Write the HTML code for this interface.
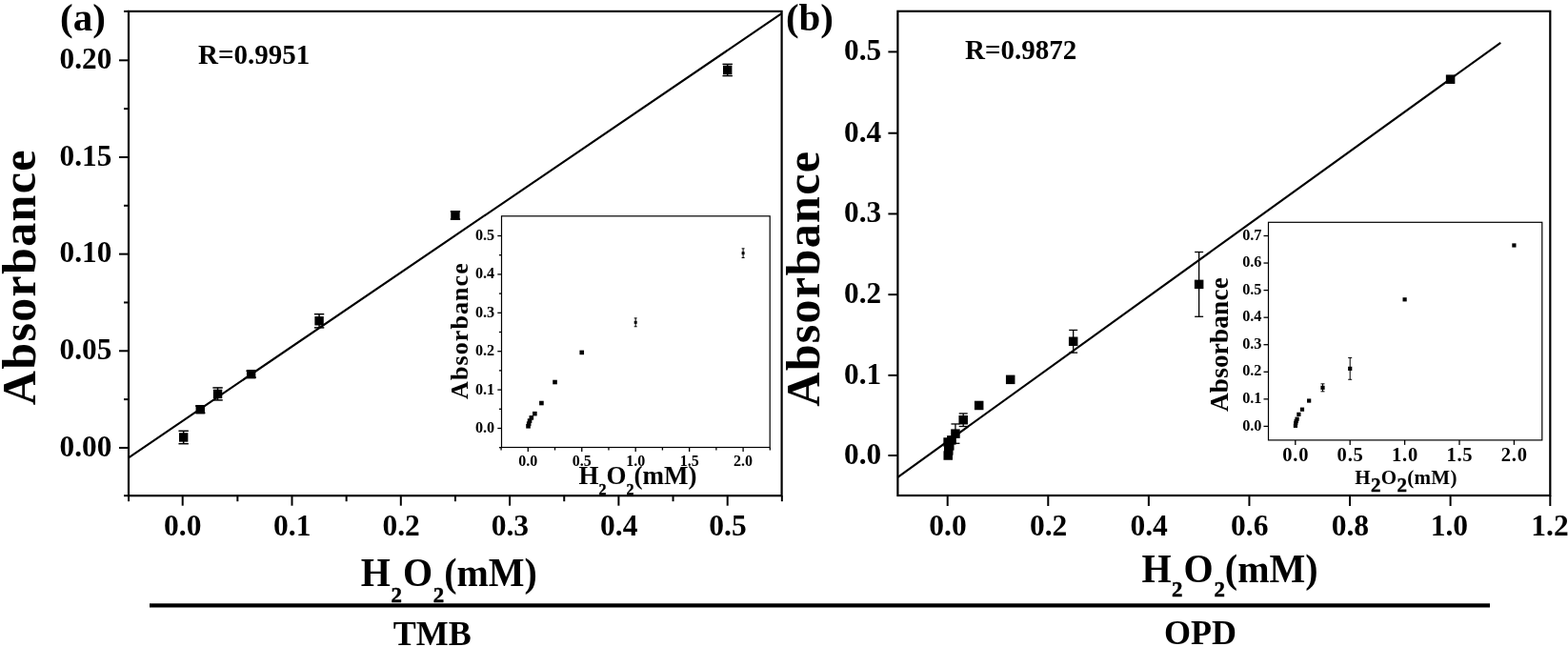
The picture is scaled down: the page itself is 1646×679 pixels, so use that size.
<!DOCTYPE html>
<html lang="en">
<head>
<meta charset="utf-8">
<title>Absorbance vs H2O2 concentration (TMB and OPD)</title>
<style>
html, body { margin: 0; padding: 0; background: #fff; }
body { width: 1646px; height: 679px; overflow: hidden; font-family: 'Liberation Serif', serif; }
svg { display: block; }
</style>
</head>
<body>
<svg width="1646" height="679" viewBox="0 0 1646 679">
<rect x="0" y="0" width="1646" height="679" fill="#fff"/>
<g stroke="#000" fill="none" stroke-linecap="butt">
<rect x="135.0" y="11.9" width="685.60" height="508.30" stroke-width="2.2"/>
<line x1="130.00" y1="520.20" x2="135.00" y2="520.20" stroke-width="2" />
<line x1="125.00" y1="469.95" x2="135.00" y2="469.95" stroke-width="2" />
<line x1="130.00" y1="419.12" x2="135.00" y2="419.12" stroke-width="2" />
<line x1="125.00" y1="368.29" x2="135.00" y2="368.29" stroke-width="2" />
<line x1="130.00" y1="317.46" x2="135.00" y2="317.46" stroke-width="2" />
<line x1="125.00" y1="266.63" x2="135.00" y2="266.63" stroke-width="2" />
<line x1="130.00" y1="215.80" x2="135.00" y2="215.80" stroke-width="2" />
<line x1="125.00" y1="164.97" x2="135.00" y2="164.97" stroke-width="2" />
<line x1="130.00" y1="114.14" x2="135.00" y2="114.14" stroke-width="2" />
<line x1="125.00" y1="63.31" x2="135.00" y2="63.31" stroke-width="2" />
<line x1="130.00" y1="11.90" x2="135.00" y2="11.90" stroke-width="2" />
<line x1="135.05" y1="520.20" x2="135.05" y2="526.20" stroke-width="2" />
<line x1="191.70" y1="520.20" x2="191.70" y2="530.70" stroke-width="2" />
<line x1="249.35" y1="520.20" x2="249.35" y2="526.20" stroke-width="2" />
<line x1="306.50" y1="520.20" x2="306.50" y2="530.70" stroke-width="2" />
<line x1="363.65" y1="520.20" x2="363.65" y2="526.20" stroke-width="2" />
<line x1="420.80" y1="520.20" x2="420.80" y2="530.70" stroke-width="2" />
<line x1="477.95" y1="520.20" x2="477.95" y2="526.20" stroke-width="2" />
<line x1="535.10" y1="520.20" x2="535.10" y2="530.70" stroke-width="2" />
<line x1="592.25" y1="520.20" x2="592.25" y2="526.20" stroke-width="2" />
<line x1="649.40" y1="520.20" x2="649.40" y2="530.70" stroke-width="2" />
<line x1="706.55" y1="520.20" x2="706.55" y2="526.20" stroke-width="2" />
<line x1="763.70" y1="520.20" x2="763.70" y2="530.70" stroke-width="2" />
<line x1="820.85" y1="520.20" x2="820.85" y2="526.20" stroke-width="2" />
<line x1="135.00" y1="480.30" x2="820.50" y2="14.20" stroke-width="2.15" />
<line x1="763.70" y1="67.38" x2="763.70" y2="79.58" stroke-width="1.5" />
<line x1="758.50" y1="67.38" x2="768.90" y2="67.38" stroke-width="1.5" />
<line x1="758.50" y1="79.58" x2="768.90" y2="79.58" stroke-width="1.5" />
<rect x="759.00" y="68.78" width="9.4" height="9.4" fill="#000" stroke="none"/>
<line x1="477.95" y1="221.90" x2="477.95" y2="230.03" stroke-width="1.5" />
<line x1="472.75" y1="221.90" x2="483.15" y2="221.90" stroke-width="1.5" />
<line x1="472.75" y1="230.03" x2="483.15" y2="230.03" stroke-width="1.5" />
<rect x="473.25" y="221.27" width="9.4" height="9.4" fill="#000" stroke="none"/>
<line x1="335.07" y1="329.66" x2="335.07" y2="343.89" stroke-width="1.5" />
<line x1="329.88" y1="329.66" x2="340.27" y2="329.66" stroke-width="1.5" />
<line x1="329.88" y1="343.89" x2="340.27" y2="343.89" stroke-width="1.5" />
<rect x="330.38" y="332.08" width="9.4" height="9.4" fill="#000" stroke="none"/>
<line x1="263.64" y1="389.23" x2="263.64" y2="396.14" stroke-width="1.5" />
<line x1="258.44" y1="389.23" x2="268.84" y2="389.23" stroke-width="1.5" />
<line x1="258.44" y1="396.14" x2="268.84" y2="396.14" stroke-width="1.5" />
<rect x="258.94" y="387.99" width="9.4" height="9.4" fill="#000" stroke="none"/>
<line x1="228.55" y1="406.92" x2="228.55" y2="419.93" stroke-width="1.5" />
<line x1="223.35" y1="406.92" x2="233.75" y2="406.92" stroke-width="1.5" />
<line x1="223.35" y1="419.93" x2="233.75" y2="419.93" stroke-width="1.5" />
<rect x="223.85" y="408.73" width="9.4" height="9.4" fill="#000" stroke="none"/>
<line x1="210.26" y1="426.03" x2="210.26" y2="433.35" stroke-width="1.5" />
<line x1="205.06" y1="426.03" x2="215.46" y2="426.03" stroke-width="1.5" />
<line x1="205.06" y1="433.35" x2="215.46" y2="433.35" stroke-width="1.5" />
<rect x="205.56" y="424.99" width="9.4" height="9.4" fill="#000" stroke="none"/>
<line x1="192.66" y1="452.26" x2="192.66" y2="465.68" stroke-width="1.5" />
<line x1="187.46" y1="452.26" x2="197.86" y2="452.26" stroke-width="1.5" />
<line x1="187.46" y1="465.68" x2="197.86" y2="465.68" stroke-width="1.5" />
<rect x="187.96" y="454.27" width="9.4" height="9.4" fill="#000" stroke="none"/>
</g>
<g fill="#000" font-family="'Liberation Serif', serif" font-weight="bold">
<text x="117.40" y="478.65" font-size="31.3" text-anchor="end" >0.00</text>
<text x="117.40" y="376.99" font-size="31.3" text-anchor="end" >0.05</text>
<text x="117.40" y="275.33" font-size="31.3" text-anchor="end" >0.10</text>
<text x="117.40" y="173.67" font-size="31.3" text-anchor="end" >0.15</text>
<text x="117.40" y="72.01" font-size="31.3" text-anchor="end" >0.20</text>
<text x="191.80" y="561.60" font-size="31.5" text-anchor="middle" >0.0</text>
<text x="306.80" y="561.60" font-size="31.5" text-anchor="middle" >0.1</text>
<text x="421.10" y="561.60" font-size="31.5" text-anchor="middle" >0.2</text>
<text x="535.40" y="561.60" font-size="31.5" text-anchor="middle" >0.3</text>
<text x="649.70" y="561.60" font-size="31.5" text-anchor="middle" >0.4</text>
<text x="764.00" y="561.60" font-size="31.5" text-anchor="middle" >0.5</text>
<text x="63.00" y="31.50" font-size="41" text-anchor="start" >(a)</text>
<text x="208.00" y="66.60" font-size="29" text-anchor="start" >R=0.9951</text>
<text transform="translate(37.4,425.2) rotate(-90)" font-size="50" letter-spacing="1.35" text-anchor="start">Absorbance</text>
<text transform="translate(378.8,615.3) scale(0.952,1)" font-size="42" text-anchor="start">H<tspan font-size="24" dy="16.2" dx="0.5" stroke="#000" stroke-width="0.5">2</tspan><tspan dy="-16.2" dx="1.2">O</tspan><tspan font-size="24" dy="16.2" dx="0.8" stroke="#000" stroke-width="0.5">2</tspan><tspan dy="-16.2" dx="0">(mM)</tspan></text>
<text x="453.80" y="677.00" font-size="36" text-anchor="middle" >TMB</text>
</g>
<g stroke="#000" fill="none">
<rect x="526.5" y="226.8" width="281.70" height="242.70" stroke-width="1.2" fill="#fff"/>
<line x1="523.90" y1="469.70" x2="526.50" y2="469.70" stroke-width="1.3" />
<line x1="522.30" y1="449.50" x2="526.50" y2="449.50" stroke-width="1.3" />
<line x1="523.90" y1="429.30" x2="526.50" y2="429.30" stroke-width="1.3" />
<line x1="522.30" y1="409.10" x2="526.50" y2="409.10" stroke-width="1.3" />
<line x1="523.90" y1="388.90" x2="526.50" y2="388.90" stroke-width="1.3" />
<line x1="522.30" y1="368.70" x2="526.50" y2="368.70" stroke-width="1.3" />
<line x1="523.90" y1="348.50" x2="526.50" y2="348.50" stroke-width="1.3" />
<line x1="522.30" y1="328.30" x2="526.50" y2="328.30" stroke-width="1.3" />
<line x1="523.90" y1="308.10" x2="526.50" y2="308.10" stroke-width="1.3" />
<line x1="522.30" y1="287.90" x2="526.50" y2="287.90" stroke-width="1.3" />
<line x1="523.90" y1="267.70" x2="526.50" y2="267.70" stroke-width="1.3" />
<line x1="522.30" y1="247.50" x2="526.50" y2="247.50" stroke-width="1.3" />
<line x1="526.07" y1="469.50" x2="526.07" y2="472.50" stroke-width="1.3" />
<line x1="554.30" y1="469.50" x2="554.30" y2="474.10" stroke-width="1.3" />
<line x1="582.52" y1="469.50" x2="582.52" y2="472.50" stroke-width="1.3" />
<line x1="610.75" y1="469.50" x2="610.75" y2="474.10" stroke-width="1.3" />
<line x1="638.97" y1="469.50" x2="638.97" y2="472.50" stroke-width="1.3" />
<line x1="667.20" y1="469.50" x2="667.20" y2="474.10" stroke-width="1.3" />
<line x1="695.42" y1="469.50" x2="695.42" y2="472.50" stroke-width="1.3" />
<line x1="723.65" y1="469.50" x2="723.65" y2="474.10" stroke-width="1.3" />
<line x1="751.88" y1="469.50" x2="751.88" y2="472.50" stroke-width="1.3" />
<line x1="780.10" y1="469.50" x2="780.10" y2="474.10" stroke-width="1.3" />
<line x1="808.32" y1="469.50" x2="808.32" y2="472.50" stroke-width="1.3" />
<line x1="780.10" y1="260.83" x2="780.10" y2="270.53" stroke-width="1" />
<line x1="778.60" y1="260.83" x2="781.60" y2="260.83" stroke-width="1" />
<line x1="778.60" y1="270.53" x2="781.60" y2="270.53" stroke-width="1" />
<rect x="778.60" y="264.18" width="3" height="3" fill="#000" stroke="none"/>
<line x1="667.20" y1="333.88" x2="667.20" y2="342.76" stroke-width="1" />
<line x1="665.70" y1="333.88" x2="668.70" y2="333.88" stroke-width="1" />
<line x1="665.70" y1="342.76" x2="668.70" y2="342.76" stroke-width="1" />
<rect x="665.70" y="336.82" width="3" height="3" fill="#000" stroke="none"/>
<rect x="608.45" y="367.61" width="4.6" height="4.6" fill="#000" stroke="none"/>
<rect x="580.23" y="398.72" width="4.6" height="4.6" fill="#000" stroke="none"/>
<rect x="566.11" y="420.74" width="4.6" height="4.6" fill="#000" stroke="none"/>
<rect x="559.06" y="431.85" width="4.6" height="4.6" fill="#000" stroke="none"/>
<rect x="555.53" y="436.09" width="4.6" height="4.6" fill="#000" stroke="none"/>
<rect x="553.76" y="439.32" width="4.6" height="4.6" fill="#000" stroke="none"/>
<rect x="552.88" y="442.35" width="4.6" height="4.6" fill="#000" stroke="none"/>
<rect x="552.23" y="444.98" width="4.6" height="4.6" fill="#000" stroke="none"/>
</g>
<g fill="#000" font-family="'Liberation Serif', serif" font-weight="bold">
<text x="519.20" y="453.90" font-size="16.2" text-anchor="end" >0.0</text>
<text x="519.20" y="413.50" font-size="16.2" text-anchor="end" >0.1</text>
<text x="519.20" y="373.10" font-size="16.2" text-anchor="end" >0.2</text>
<text x="519.20" y="332.70" font-size="16.2" text-anchor="end" >0.3</text>
<text x="519.20" y="292.30" font-size="16.2" text-anchor="end" >0.4</text>
<text x="519.20" y="251.90" font-size="16.2" text-anchor="end" >0.5</text>
<text x="554.30" y="488.80" font-size="16" text-anchor="middle" >0.0</text>
<text x="610.75" y="488.80" font-size="16" text-anchor="middle" >0.5</text>
<text x="667.20" y="488.80" font-size="16" text-anchor="middle" >1.0</text>
<text x="723.65" y="488.80" font-size="16" text-anchor="middle" >1.5</text>
<text x="780.10" y="488.80" font-size="16" text-anchor="middle" >2.0</text>
<text transform="translate(491,419) rotate(-90)" font-size="26" letter-spacing="1.1" text-anchor="start">Absorbance</text>
<text x="607.5" y="507.8" font-size="27" text-anchor="start">H<tspan font-size="16" dy="11.5" stroke="#000" stroke-width="0.4">2</tspan><tspan dy="-11.5">O</tspan><tspan font-size="16" dy="11.5" stroke="#000" stroke-width="0.4">2</tspan><tspan dy="-11.5">(mM)</tspan></text>
</g>
<g stroke="#000" fill="none">
<rect x="942.4" y="11.8" width="684.90" height="508.20" stroke-width="2.2"/>
<line x1="932.40" y1="478.00" x2="942.40" y2="478.00" stroke-width="2" />
<line x1="932.40" y1="393.88" x2="942.40" y2="393.88" stroke-width="2" />
<line x1="932.40" y1="309.16" x2="942.40" y2="309.16" stroke-width="2" />
<line x1="932.40" y1="224.44" x2="942.40" y2="224.44" stroke-width="2" />
<line x1="932.40" y1="139.72" x2="942.40" y2="139.72" stroke-width="2" />
<line x1="932.40" y1="54.40" x2="942.40" y2="54.40" stroke-width="2" />
<line x1="994.70" y1="520.00" x2="994.70" y2="531.00" stroke-width="2" />
<line x1="1100.28" y1="520.00" x2="1100.28" y2="531.00" stroke-width="2" />
<line x1="1205.86" y1="520.00" x2="1205.86" y2="531.00" stroke-width="2" />
<line x1="1311.44" y1="520.00" x2="1311.44" y2="531.00" stroke-width="2" />
<line x1="1417.02" y1="520.00" x2="1417.02" y2="531.00" stroke-width="2" />
<line x1="1522.60" y1="520.00" x2="1522.60" y2="531.00" stroke-width="2" />
<line x1="1627.30" y1="520.00" x2="1627.30" y2="531.00" stroke-width="2" />
<line x1="942.40" y1="500.80" x2="1575.30" y2="44.80" stroke-width="2.15" />
<rect x="1517.85" y="78.45" width="9.5" height="9.5" fill="#000" stroke="none"/>
<line x1="1258.65" y1="264.51" x2="1258.65" y2="332.28" stroke-width="1.3" />
<line x1="1254.15" y1="264.51" x2="1263.15" y2="264.51" stroke-width="1.3" />
<line x1="1254.15" y1="332.28" x2="1263.15" y2="332.28" stroke-width="1.3" />
<rect x="1253.90" y="293.64" width="9.5" height="9.5" fill="#000" stroke="none"/>
<line x1="1126.67" y1="346.43" x2="1126.67" y2="370.15" stroke-width="1.3" />
<line x1="1122.17" y1="346.43" x2="1131.17" y2="346.43" stroke-width="1.3" />
<line x1="1122.17" y1="370.15" x2="1131.17" y2="370.15" stroke-width="1.3" />
<rect x="1121.92" y="353.54" width="9.5" height="9.5" fill="#000" stroke="none"/>
<rect x="1055.94" y="393.61" width="9.5" height="9.5" fill="#000" stroke="none"/>
<rect x="1022.94" y="420.72" width="9.5" height="9.5" fill="#000" stroke="none"/>
<line x1="1011.20" y1="433.95" x2="1011.20" y2="447.50" stroke-width="1.3" />
<line x1="1006.70" y1="433.95" x2="1015.70" y2="433.95" stroke-width="1.3" />
<line x1="1006.70" y1="447.50" x2="1015.70" y2="447.50" stroke-width="1.3" />
<rect x="1006.45" y="435.97" width="9.5" height="9.5" fill="#000" stroke="none"/>
<line x1="1002.94" y1="444.96" x2="1002.94" y2="465.29" stroke-width="1.3" />
<line x1="998.44" y1="444.96" x2="1007.44" y2="444.96" stroke-width="1.3" />
<line x1="998.44" y1="465.29" x2="1007.44" y2="465.29" stroke-width="1.3" />
<rect x="998.19" y="450.38" width="9.5" height="9.5" fill="#000" stroke="none"/>
<line x1="998.82" y1="458.51" x2="998.82" y2="465.29" stroke-width="1.3" />
<line x1="995.82" y1="458.51" x2="1001.82" y2="458.51" stroke-width="1.3" />
<line x1="995.82" y1="465.29" x2="1001.82" y2="465.29" stroke-width="1.3" />
<rect x="994.07" y="457.15" width="9.5" height="9.5" fill="#000" stroke="none"/>
<rect x="992.01" y="463.08" width="9.5" height="9.5" fill="#000" stroke="none"/>
<rect x="990.37" y="459.27" width="9.5" height="9.5" fill="#000" stroke="none"/>
<rect x="991.01" y="468.17" width="9.5" height="9.5" fill="#000" stroke="none"/>
<rect x="990.48" y="473.25" width="9.5" height="9.5" fill="#000" stroke="none"/>
</g>
<g fill="#000" font-family="'Liberation Serif', serif" font-weight="bold">
<text x="925.20" y="487.00" font-size="31.3" text-anchor="end" >0.0</text>
<text x="925.20" y="402.88" font-size="31.3" text-anchor="end" >0.1</text>
<text x="925.20" y="318.16" font-size="31.3" text-anchor="end" >0.2</text>
<text x="925.20" y="233.44" font-size="31.3" text-anchor="end" >0.3</text>
<text x="925.20" y="148.72" font-size="31.3" text-anchor="end" >0.4</text>
<text x="925.20" y="63.40" font-size="31.3" text-anchor="end" >0.5</text>
<text x="995.00" y="561.60" font-size="31.5" text-anchor="middle" >0.0</text>
<text x="1100.58" y="561.60" font-size="31.5" text-anchor="middle" >0.2</text>
<text x="1206.16" y="561.60" font-size="31.5" text-anchor="middle" >0.4</text>
<text x="1311.74" y="561.60" font-size="31.5" text-anchor="middle" >0.6</text>
<text x="1417.32" y="561.60" font-size="31.5" text-anchor="middle" >0.8</text>
<text x="1521.40" y="561.60" font-size="31.5" text-anchor="middle" >1.0</text>
<text x="1626.98" y="561.60" font-size="31.5" text-anchor="middle" >1.2</text>
<text x="824.90" y="31.60" font-size="41" text-anchor="start" >(b)</text>
<text x="1013.00" y="61.60" font-size="29" text-anchor="start" >R=0.9872</text>
<text transform="translate(860.2,426.8) rotate(-90)" font-size="50" letter-spacing="1.35" text-anchor="start">Absorbance</text>
<text transform="translate(1198.4,610.9) scale(0.952,1)" font-size="42" text-anchor="start">H<tspan font-size="24" dy="15.4" dx="0.5" stroke="#000" stroke-width="0.5">2</tspan><tspan dy="-15.4" dx="1.2">O</tspan><tspan font-size="24" dy="15.4" dx="0.8" stroke="#000" stroke-width="0.5">2</tspan><tspan dy="-15.4" dx="0">(mM)</tspan></text>
<text x="1260.00" y="676.30" font-size="36" text-anchor="middle" >OPD</text>
</g>
<g stroke="#000" fill="none">
<rect x="1331.5" y="233.3" width="287.30" height="228.60" stroke-width="1.2" fill="#fff"/>
<line x1="1326.50" y1="447.40" x2="1331.50" y2="447.40" stroke-width="1.3" />
<line x1="1326.50" y1="418.84" x2="1331.50" y2="418.84" stroke-width="1.3" />
<line x1="1326.50" y1="390.28" x2="1331.50" y2="390.28" stroke-width="1.3" />
<line x1="1326.50" y1="361.72" x2="1331.50" y2="361.72" stroke-width="1.3" />
<line x1="1326.50" y1="333.16" x2="1331.50" y2="333.16" stroke-width="1.3" />
<line x1="1326.50" y1="304.60" x2="1331.50" y2="304.60" stroke-width="1.3" />
<line x1="1326.50" y1="276.04" x2="1331.50" y2="276.04" stroke-width="1.3" />
<line x1="1326.50" y1="247.48" x2="1331.50" y2="247.48" stroke-width="1.3" />
<line x1="1359.80" y1="461.90" x2="1359.80" y2="466.90" stroke-width="1.3" />
<line x1="1417.20" y1="461.90" x2="1417.20" y2="466.90" stroke-width="1.3" />
<line x1="1474.60" y1="461.90" x2="1474.60" y2="466.90" stroke-width="1.3" />
<line x1="1532.00" y1="461.90" x2="1532.00" y2="466.90" stroke-width="1.3" />
<line x1="1589.40" y1="461.90" x2="1589.40" y2="466.90" stroke-width="1.3" />
<rect x="1587.30" y="255.38" width="4.2" height="4.2" fill="#000" stroke="none"/>
<rect x="1472.50" y="312.21" width="4.2" height="4.2" fill="#000" stroke="none"/>
<line x1="1417.20" y1="375.43" x2="1417.20" y2="398.28" stroke-width="1" />
<line x1="1415.20" y1="375.43" x2="1419.20" y2="375.43" stroke-width="1" />
<line x1="1415.20" y1="398.28" x2="1419.20" y2="398.28" stroke-width="1" />
<rect x="1415.10" y="384.75" width="4.2" height="4.2" fill="#000" stroke="none"/>
<line x1="1388.50" y1="402.85" x2="1388.50" y2="410.84" stroke-width="1" />
<line x1="1386.50" y1="402.85" x2="1390.50" y2="402.85" stroke-width="1" />
<line x1="1386.50" y1="410.84" x2="1390.50" y2="410.84" stroke-width="1" />
<rect x="1386.40" y="404.74" width="4.2" height="4.2" fill="#000" stroke="none"/>
<rect x="1372.05" y="418.45" width="4.2" height="4.2" fill="#000" stroke="none"/>
<rect x="1364.88" y="427.59" width="4.2" height="4.2" fill="#000" stroke="none"/>
<rect x="1361.29" y="432.73" width="4.2" height="4.2" fill="#000" stroke="none"/>
<rect x="1359.49" y="437.59" width="4.2" height="4.2" fill="#000" stroke="none"/>
<rect x="1358.60" y="439.87" width="4.2" height="4.2" fill="#000" stroke="none"/>
<rect x="1358.15" y="441.87" width="4.2" height="4.2" fill="#000" stroke="none"/>
<rect x="1357.81" y="444.73" width="4.2" height="4.2" fill="#000" stroke="none"/>
</g>
<g fill="#000" font-family="'Liberation Serif', serif" font-weight="bold">
<text x="1324.50" y="451.60" font-size="16.3" text-anchor="end" >0.0</text>
<text x="1324.50" y="423.04" font-size="16.3" text-anchor="end" >0.1</text>
<text x="1324.50" y="394.48" font-size="16.3" text-anchor="end" >0.2</text>
<text x="1324.50" y="365.92" font-size="16.3" text-anchor="end" >0.3</text>
<text x="1324.50" y="337.36" font-size="16.3" text-anchor="end" >0.4</text>
<text x="1324.50" y="308.80" font-size="16.3" text-anchor="end" >0.5</text>
<text x="1324.50" y="280.24" font-size="16.3" text-anchor="end" >0.6</text>
<text x="1324.50" y="251.68" font-size="16.3" text-anchor="end" >0.7</text>
<text x="1360.20" y="484.00" font-size="20.5" text-anchor="middle" letter-spacing="0.8">0.0</text>
<text x="1417.60" y="484.00" font-size="20.5" text-anchor="middle" letter-spacing="0.8">0.5</text>
<text x="1475.00" y="484.00" font-size="20.5" text-anchor="middle" letter-spacing="0.8">1.0</text>
<text x="1532.40" y="484.00" font-size="20.5" text-anchor="middle" letter-spacing="0.8">1.5</text>
<text x="1589.80" y="484.00" font-size="20.5" text-anchor="middle" letter-spacing="0.8">2.0</text>
<text transform="translate(1289.3,432) rotate(-90)" font-size="27.2" letter-spacing="0.2" text-anchor="start">Absorbance</text>
<text x="1422.3" y="507.9" font-size="21" letter-spacing="0.3" text-anchor="start">H<tspan font-size="21" dy="7.8" stroke="#000" stroke-width="0.4">2</tspan><tspan dy="-7.8">O</tspan><tspan font-size="21" dy="7.8" stroke="#000" stroke-width="0.4">2</tspan><tspan dy="-7.8">(mM)</tspan></text>
</g>
<rect x="157" y="633.3" width="1407" height="4.2" fill="#000"/>
</svg>
</body>
</html>
